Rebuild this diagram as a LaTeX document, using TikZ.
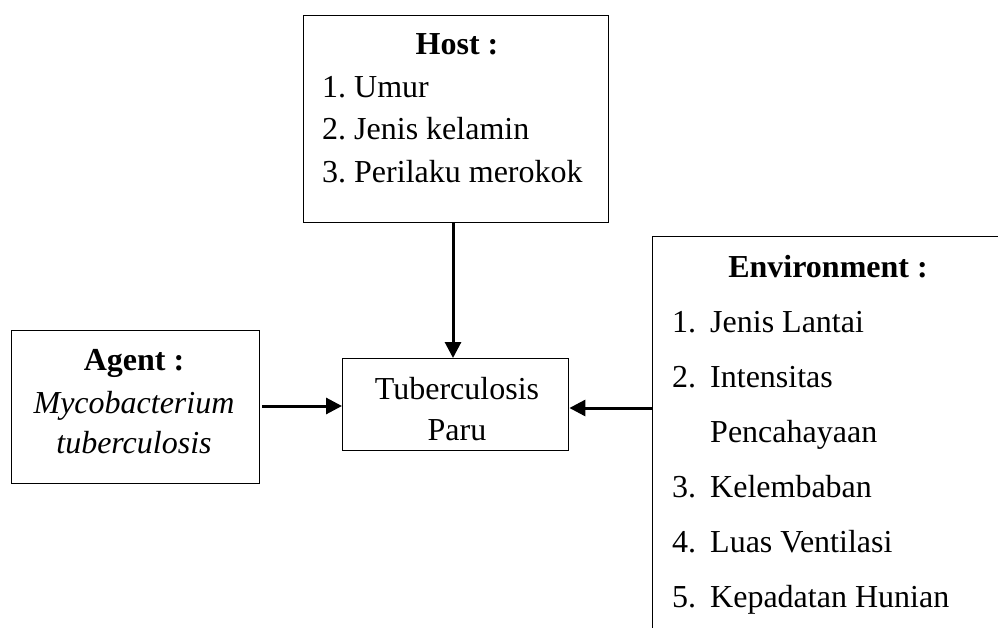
\documentclass[tikz,border=0pt]{standalone}
\usepackage{fontspec}
\setmainfont{Liberation Serif}
\usetikzlibrary{arrows.meta}
\frenchspacing
\begin{document}
\begin{tikzpicture}[x=1pt,y=-1pt,
  box/.style={draw=black,line width=1.4pt,rectangle,inner sep=0pt,anchor=north west},
  txt/.style={inner sep=0pt,anchor=base,font=\fontsize{32}{38}\selectfont},
  ltxt/.style={txt,anchor=base west},
  arr/.style={line width=3pt,-{Triangle[length=16pt,width=16pt]}}]
\useasboundingbox (0,0) rectangle (998,628);
\clip (0,0) rectangle (998,628);
% boxes
\node[box,minimum width=305pt,minimum height=207pt] (host) at (303,15) {};
\node[box,minimum width=248pt,minimum height=153pt] (agent) at (11,330) {};
\node[box,minimum width=226pt,minimum height=92pt] (tb) at (342,358) {};
\node[box,minimum width=380pt,minimum height=440pt] (env) at (652,236) {};
% host text
\node[txt] (hosth) at (457,55) {\textbf{Host :}};
\node[ltxt] (h1) at (322,98) {1. Umur};
\node[ltxt] (h2) at (322,140) {2. Jenis kelamin};
\node[ltxt] (h3) at (322,183) {3. Perilaku merokok};
% agent text
\node[txt] (agh) at (134,370) {\textbf{Agent :}};
\node[txt] (ag1) at (134,413) {\textit{Mycobacterium}};
\node[txt] (ag2) at (134,453) {\textit{tuberculosis}};
% tb text
\node[txt] (tb1) at (457,399) {Tuberculosis};
\node[txt] (tb2) at (457,440) {Paru};
% environment text
\node[txt] (envh) at (828,277) {\textbf{Environment :}};
\node[ltxt] (e1n) at (672,332) {1.};
\node[ltxt] (e1) at (710,332) {Jenis Lantai};
\node[ltxt] (e2n) at (672,387) {2.};
\node[ltxt] (e2) at (710,387) {Intensitas};
\node[ltxt] (e2b) at (710,442) {Pencahayaan};
\node[ltxt] (e3n) at (672,497) {3.};
\node[ltxt] (e3) at (710,497) {Kelembaban};
\node[ltxt] (e4n) at (672,552) {4.};
\node[ltxt] (e4) at (710,552) {Luas Ventilasi};
\node[ltxt] (e5n) at (672,607) {5.};
\node[ltxt] (e5) at (710,607) {Kepadatan Hunian};
% connectors
\coordinate (envout) at (652,408);
\draw[arr] (host.south -| 453,0) -- (tb.north -| 453,0);
\draw[arr] (262,406) -- (tb.west |- 0,406);
\draw[arr] (envout) -- (tb.east |- envout);
\end{tikzpicture}
\end{document}
